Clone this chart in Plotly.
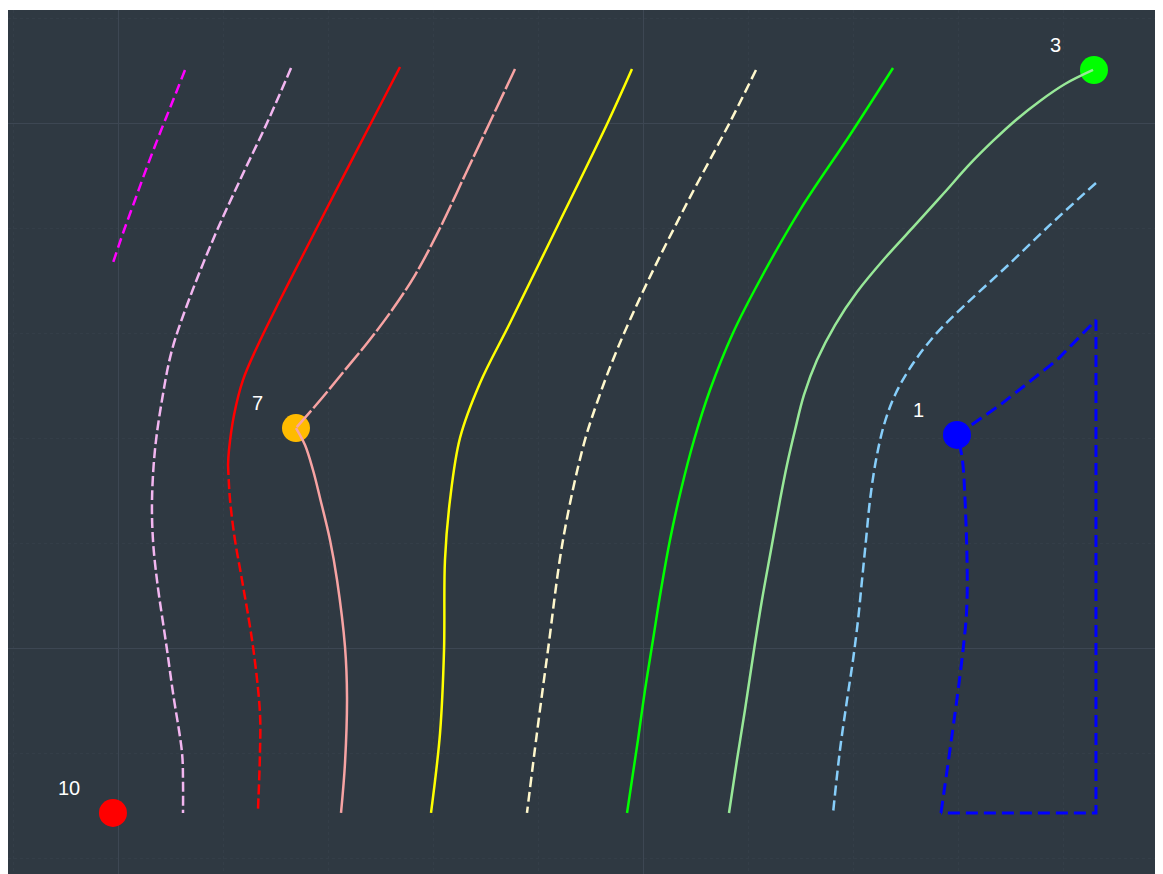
import plotly.graph_objects as go

# ---- data (map units) ----
site_labels = ["10", "7", "1", "3"]
site_x = [-0.048, 1.695, 7.990, 9.295]
site_y = [-1.571, 2.095, 2.029, 5.505]
site_colors = ["#FF0000", "#FFBB00", "#0000FF", "#00FF00"]

magenta_x = [0.638, 0.514, 0.400, 0.276, 0.162, 0.048, -0.048]
magenta_y = [5.505, 5.190, 4.905, 4.581, 4.267, 3.952, 3.667]

plum_x = [1.648, 1.419, 1.162, 0.924, 0.686, 0.514, 0.419, 0.352, 0.324, 0.333, 0.371, 0.467, 0.524, 0.610, 0.619, 0.619]
plum_y = [5.524, 5.000, 4.457, 3.933, 3.343, 2.838, 2.362, 1.886, 1.410, 1.029, 0.648, -0.019, -0.429, -1.000, -1.257, -1.571]

red_solid_x = [2.686, 2.410, 1.981, 1.752, 1.543, 1.333, 1.190, 1.105, 1.057, 1.048]
red_solid_y = [5.533, 5.000, 4.171, 3.724, 3.314, 2.886, 2.552, 2.219, 1.886, 1.743]
red_dash_x = [1.048, 1.067, 1.114, 1.181, 1.286, 1.352, 1.352, 1.333]
red_dash_y = [1.743, 1.410, 1.029, 0.648, 0.010, -0.619, -1.000, -1.543]

salmon_dash_x = [3.781, 3.543, 3.305, 3.067, 2.829, 2.610, 2.381, 2.162, 1.943, 1.695]
salmon_dash_y = [5.514, 5.010, 4.505, 4.000, 3.552, 3.219, 2.914, 2.648, 2.381, 2.095]
salmon_solid_x = [1.695, 1.781, 1.857, 1.924, 2.019, 2.086, 2.162, 2.181, 2.162, 2.124]
salmon_solid_y = [2.095, 1.933, 1.695, 1.429, 1.029, 0.648, 0.010, -0.467, -1.095, -1.571]

yellow_x = [4.895, 4.667, 4.181, 3.733, 3.448, 3.257, 3.162, 3.114, 3.105, 3.067, 2.981]
yellow_y = [5.514, 5.010, 4.010, 3.095, 2.524, 2.000, 1.410, 0.838, -0.019, -0.810, -1.571]

beige_x = [6.076, 5.829, 5.419, 5.038, 4.752, 4.571, 4.429, 4.238, 4.095, 3.990, 3.895]
beige_y = [5.505, 5.010, 4.238, 3.476, 2.838, 2.362, 1.914, 1.029, -0.019, -0.810, -1.571]

lime_x = [7.381, 6.971, 6.495, 6.114, 5.857, 5.638, 5.486, 5.362, 5.257, 5.171, 5.095, 5.019, 4.952, 4.895, 4.848]
lime_y = [5.524, 4.886, 4.171, 3.505, 3.000, 2.457, 1.981, 1.505, 1.029, 0.552, 0.076, -0.400, -0.876, -1.257, -1.571]

lgreen_x = [9.286, 9.019, 8.781, 8.552, 8.333, 8.114, 7.867, 7.610, 7.305, 7.038, 6.829, 6.657, 6.533,
            6.448, 6.371, 6.305, 6.219, 6.133, 6.057, 5.971, 5.895, 5.819]
lgreen_y = [5.505, 5.371, 5.210, 5.029, 4.829, 4.610, 4.333, 4.048, 3.714, 3.390, 3.076, 2.743, 2.410,
            2.076, 1.743, 1.410, 0.933, 0.457, -0.019, -0.590, -1.067, -1.571]

lblue_x = [9.314, 8.876, 8.448, 8.067, 7.781, 7.562, 7.400, 7.295, 7.219, 7.162, 7.124, 7.086, 7.048, 7.000, 6.943, 6.876, 6.810]
lblue_y = [4.429, 4.029, 3.619, 3.267, 2.981, 2.695, 2.410, 2.124, 1.790, 1.410, 1.029, 0.648, 0.267, -0.114, -0.495, -0.971, -1.571]

blue_outer_x = [7.990, 8.400, 8.943, 9.314, 9.314, 7.838]
blue_outer_y = [2.029, 2.314, 2.743, 3.124, -1.571, -1.571]
blue_inner_x = [7.838, 8.048, 8.086, 8.067, 8.038, 7.990]
blue_inner_y = [-1.571, -0.019, 0.457, 1.410, 1.819, 2.029]

BG = "#2F3942"

fig = go.Figure()

# site markers (below lines)
fig.add_trace(go.Scatter(
    x=site_x, y=site_y, mode="markers",
    marker=dict(size=28, color=site_colors, line=dict(width=0)),
    showlegend=False, hoverinfo="skip"))

def add_line(x, y, color, dash="solid", width=2.5, shape="spline"):
    fig.add_trace(go.Scatter(x=x, y=y, mode="lines",
                             line=dict(color=color, width=width, dash=dash, shape=shape),
                             showlegend=False, hoverinfo="skip"))

add_line(magenta_x, magenta_y, "#FF00FF", "10px,5px")
add_line(plum_x, plum_y, "#F2B6F0", "10px,4px")
add_line(red_solid_x, red_solid_y, "#FF0000")
add_line(red_dash_x, red_dash_y, "#FF0000", "10px,4px")
add_line(salmon_dash_x, salmon_dash_y, "#F7A3A3", "22px,3px")
add_line(salmon_solid_x, salmon_solid_y, "#F7A3A3")
add_line(yellow_x, yellow_y, "#FFFF00")
add_line(beige_x, beige_y, "#FFF8CC", "10px,5px")
add_line(lime_x, lime_y, "#00FF00")
add_line(lgreen_x, lgreen_y, "#98E898")
add_line(lblue_x, lblue_y, "#87CEFA", "10px,5px")
add_line(blue_outer_x, blue_outer_y, "#0000FF", "12px,6px", width=3, shape="linear")
add_line(blue_inner_x, blue_inner_y, "#0000FF", "12px,6px", width=3, shape="spline")

annotations = [
    dict(x=sx, y=sy, text=lab, showarrow=False, xanchor="right", yanchor="middle",
         xshift=-31, yshift=25,
         font=dict(color="white", size=20, family="Arial, Liberation Sans, sans-serif"))
    for sx, sy, lab in zip(site_x, site_y, site_labels)
]

W, H = 1156, 866
TOP = 2
px_per_unit = 105.0
x0 = -(118 - 8) / px_per_unit
y1 = (648 - 8 - TOP) / px_per_unit

axis_common = dict(
    showticklabels=False, ticks="", zeroline=False, showline=False,
    showgrid=True, gridcolor="#3D4753", gridwidth=1, dtick=5, tick0=0,
    minor=dict(showgrid=True, dtick=1, gridcolor="#343E48", griddash="dot", gridwidth=1),
)

fig.update_layout(
    width=W, height=H,
    margin=dict(l=0, r=0, t=TOP, b=0),
    paper_bgcolor="white", plot_bgcolor=BG,
    xaxis=dict(range=[x0, x0 + W / px_per_unit], **axis_common),
    yaxis=dict(range=[y1 - (H - TOP) / px_per_unit, y1], **axis_common),
    annotations=annotations,
    showlegend=False,
)

fig.write_html("out.html")
